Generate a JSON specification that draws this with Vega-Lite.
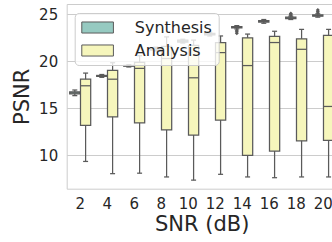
{
  "$schema": "https://vega.github.io/schema/vega-lite/v6.json",
  "width": 265,
  "height": 184.7,
  "autosize": {"type": "none"},
  "padding": {"left": 66.7, "top": 4, "right": 0, "bottom": 53.3},
  "background": "white",
  "config": {
    "view": {"stroke": null},
    "font": "DejaVu Sans",
    "axis": {
      "labelFont": "DejaVu Sans",
      "titleFont": "DejaVu Sans",
      "labelColor": "#262626",
      "titleColor": "#262626",
      "titleFontWeight": "normal",
      "domainColor": "#cccccc",
      "domainWidth": 1,
      "gridColor": "#cccccc",
      "gridWidth": 1,
      "ticks": false,
      "tickSize": 0
    }
  },
  "datasets": {
    "boxes": [
      {"snr": 2, "method": "Synthesis", "lo": 16.35, "q1": 16.55, "med": 16.65, "q3": 16.75, "hi": 16.95},
      {"snr": 4, "method": "Synthesis", "lo": 18.3, "q1": 18.4, "med": 18.45, "q3": 18.5, "hi": 18.6},
      {"snr": 6, "method": "Synthesis", "lo": 19.4, "q1": 19.48, "med": 19.53, "q3": 19.58, "hi": 19.65},
      {"snr": 8, "method": "Synthesis", "lo": 21.1, "q1": 21.2, "med": 21.3, "q3": 21.4, "hi": 21.5},
      {"snr": 10, "method": "Synthesis", "lo": 21.95, "q1": 22.05, "med": 22.15, "q3": 22.25, "hi": 22.35},
      {"snr": 12, "method": "Synthesis", "lo": 22.7, "q1": 22.82, "med": 22.9, "q3": 22.98, "hi": 23.1},
      {"snr": 14, "method": "Synthesis", "lo": 23.45, "q1": 23.55, "med": 23.62, "q3": 23.7, "hi": 23.8},
      {"snr": 16, "method": "Synthesis", "lo": 24.05, "q1": 24.18, "med": 24.25, "q3": 24.32, "hi": 24.45},
      {"snr": 18, "method": "Synthesis", "lo": 24.45, "q1": 24.55, "med": 24.62, "q3": 24.7, "hi": 24.8},
      {"snr": 20, "method": "Synthesis", "lo": 24.7, "q1": 24.8, "med": 24.87, "q3": 24.95, "hi": 25.05},
      {"snr": 2, "method": "Analysis", "lo": 9.35, "q1": 13.2, "med": 17.4, "q3": 18.1, "hi": 18.75},
      {"snr": 4, "method": "Analysis", "lo": 8.05, "q1": 14.1, "med": 18.1, "q3": 19.05, "hi": 19.85},
      {"snr": 6, "method": "Analysis", "lo": 8.1, "q1": 13.45, "med": 19.25, "q3": 19.9, "hi": 20.6},
      {"snr": 8, "method": "Analysis", "lo": 7.7, "q1": 12.7, "med": 20.3, "q3": 21.6, "hi": 22.6},
      {"snr": 10, "method": "Analysis", "lo": 7.35, "q1": 12.15, "med": 18.25, "q3": 21.7, "hi": 22.25},
      {"snr": 12, "method": "Analysis", "lo": 7.98, "q1": 13.75, "med": 20.93, "q3": 22.0, "hi": 22.7},
      {"snr": 14, "method": "Analysis", "lo": 7.7, "q1": 10.0, "med": 19.55, "q3": 22.5, "hi": 22.9},
      {"snr": 16, "method": "Analysis", "lo": 7.62, "q1": 10.46, "med": 22.0, "q3": 22.65, "hi": 23.2},
      {"snr": 18, "method": "Analysis", "lo": 7.7, "q1": 11.55, "med": 21.28, "q3": 22.4, "hi": 23.4},
      {"snr": 20, "method": "Analysis", "lo": 7.7, "q1": 11.6, "med": 15.2, "q3": 22.75, "hi": 23.4}
    ],
    "fliers": [
      {"snr": 14, "method": "Synthesis", "v": 23.3},
      {"snr": 14, "method": "Synthesis", "v": 23.15},
      {"snr": 14, "method": "Synthesis", "v": 23.0},
      {"snr": 18, "method": "Synthesis", "v": 24.9},
      {"snr": 18, "method": "Synthesis", "v": 25.0},
      {"snr": 18, "method": "Synthesis", "v": 25.1},
      {"snr": 20, "method": "Synthesis", "v": 25.15},
      {"snr": 20, "method": "Synthesis", "v": 25.3},
      {"snr": 20, "method": "Synthesis", "v": 25.45}
    ]
  },
  "layer": [
    {
      "data": {"name": "boxes"},
      "mark": {"type": "rule", "color": "#5a5a5a", "strokeWidth": 1.25},
      "encoding": {
        "x": {
          "field": "snr", "type": "ordinal", "title": "SNR (dB)",
          "scale": {"range": [0, 270], "paddingInner": 0, "paddingOuter": 0},
          "axis": {"orient": "bottom", "labelAngle": 0, "labelFontSize": 15, "labelPadding": 8, "titleFontSize": 21, "titlePadding": 2, "titleX": 135, "titleAnchor": "middle", "domain": true, "grid": false}
        },
        "xOffset": {"field": "method", "type": "nominal", "scale": {"domain": ["Synthesis", "Analysis"], "paddingInner": 0, "paddingOuter": 0.25}},
        "y": {
          "field": "lo", "type": "quantitative", "title": "PSNR",
          "scale": {"domain": [6.45, 26.1], "nice": false, "zero": false},
          "axis": {"values": [10, 15, 20, 25], "grid": true, "domain": true, "labelFontSize": 15, "labelPadding": 9, "titleFontSize": 21, "titlePadding": 6}
        },
        "y2": {"field": "hi"}
      }
    },
    {
      "data": {"name": "boxes"},
      "mark": {"type": "bar", "width": 10.2, "stroke": "#5a5a5a", "strokeWidth": 1.25, "opacity": 1},
      "encoding": {
        "x": {"field": "snr", "type": "ordinal", "title": "SNR (dB)",
          "axis": {"orient": "top", "labels": false, "title": null, "domain": true, "grid": false}},
        "xOffset": {"field": "method", "type": "nominal"},
        "y": {"field": "q1", "type": "quantitative", "title": "PSNR"},
        "y2": {"field": "q3"},
        "fill": {
          "field": "method", "type": "nominal",
          "scale": {"domain": ["Synthesis", "Analysis"], "range": ["#96cac1", "#f6f6bc"]},
          "legend": {
            "orient": "none", "legendX": 8, "legendY": 9, "title": null,
            "symbolType": "M-2,-0.7H2V0.7H-2Z", "symbolSize": 250,
            "symbolOffset": 8.4,
            "symbolStrokeColor": "#5a5a5a", "symbolStrokeWidth": 1, "symbolOpacity": 1,
            "labelFontSize": 16, "labelColor": "#262626", "labelFont": "DejaVu Sans", "labelOffset": 28.7,
            "padding": 6, "rowPadding": 6,
            "fillColor": "rgba(255,255,255,0.8)", "strokeColor": "#cccccc", "cornerRadius": 4
          }
        }
      }
    },
    {
      "data": {"name": "boxes"},
      "mark": {"type": "tick", "size": 10.2, "thickness": 1.25, "color": "#5a5a5a", "opacity": 1},
      "encoding": {
        "x": {"field": "snr", "type": "ordinal", "title": "SNR (dB)", "axis": null},
        "xOffset": {"field": "method", "type": "nominal"},
        "y": {"field": "med", "type": "quantitative", "title": "PSNR"}
      }
    },
    {
      "data": {"name": "boxes"},
      "mark": {"type": "tick", "size": 5, "thickness": 1.25, "color": "#5a5a5a", "opacity": 1},
      "encoding": {
        "x": {"field": "snr", "type": "ordinal", "title": "SNR (dB)", "axis": null},
        "xOffset": {"field": "method", "type": "nominal"},
        "y": {"field": "lo", "type": "quantitative", "title": "PSNR"}
      }
    },
    {
      "data": {"name": "boxes"},
      "mark": {"type": "tick", "size": 5, "thickness": 1.25, "color": "#5a5a5a", "opacity": 1},
      "encoding": {
        "x": {"field": "snr", "type": "ordinal", "title": "SNR (dB)", "axis": null},
        "xOffset": {"field": "method", "type": "nominal"},
        "y": {"field": "hi", "type": "quantitative", "title": "PSNR"}
      }
    },
    {
      "data": {"name": "fliers"},
      "mark": {"type": "point", "shape": "diamond", "filled": true, "size": 16, "color": "#5a5a5a", "opacity": 1},
      "encoding": {
        "x": {"field": "snr", "type": "ordinal", "title": "SNR (dB)", "axis": null},
        "xOffset": {"field": "method", "type": "nominal"},
        "y": {"field": "v", "type": "quantitative", "title": "PSNR"}
      }
    }
  ],
  "resolve": {"axis": {"x": "independent"}}
}
